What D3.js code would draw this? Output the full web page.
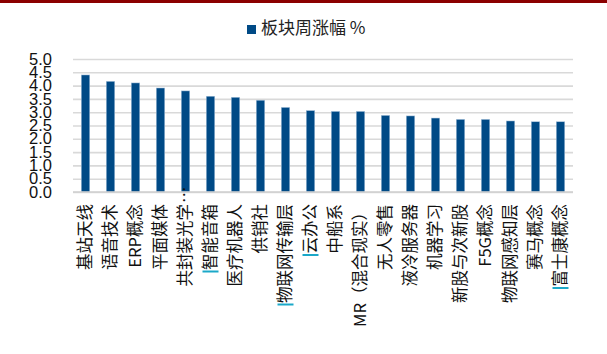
<!DOCTYPE html>
<html><head><meta charset="utf-8">
<script src="https://cdn.jsdelivr.net/npm/d3@7"></script>
<style>
body{margin:0;background:#fff;}
svg{display:block;}
</style></head>
<body><div id="chart"></div>
<script>
const categories=['基站天线','语音技术','ERP概念','平面媒体','共封装光学…','智能音箱','医疗机器人','供销社','物联网传输层','云办公','中船系','MR（混合现实）','无人零售','液冷服务器','机器学习','新股与次新股','F5G概念','物联网感知层','赛马概念','富士康概念'];
const weeklyGain=[4.40,4.16,4.10,3.91,3.80,3.60,3.56,3.45,3.18,3.06,3.03,3.03,2.88,2.86,2.78,2.73,2.73,2.67,2.64,2.64];
const yTicks=[0,0.5,1,1.5,2,2.5,3,3.5,4,4.5,5];
const seriesName='板块周涨幅 %';
const marked=['智能音箱','物联网传输层','云办公','富士康概念'];

const W=607,H=354,m={t:59,r:34,b:162,l:73};
const w=W-m.l-m.r,h=H-m.t-m.b;
const svg=d3.select('#chart').append('svg').attr('width',W).attr('height',H);
svg.append('rect').attr('width',W).attr('height',3).attr('fill','#8b0000');

const g=svg.append('g').attr('transform',`translate(${m.l},${m.t})`);
const x=d3.scaleBand().domain(categories).range([0,w]).paddingInner(.66).paddingOuter(.33);
const y=d3.scaleLinear().domain([0,5]).range([h,0]);

// grid
g.append('g').call(d3.axisLeft(y).tickValues(yTicks).tickSize(-w).tickFormat(''))
  .call(a=>a.select('.domain').remove())
  .call(a=>a.selectAll('line').attr('stroke','#d9d9d9').attr('stroke-width',1.6));
// y labels
g.append('g').selectAll('text').data(yTicks).join('text')
  .attr('x',-21).attr('y',d=>y(d)).attr('dy','0.34em').attr('text-anchor','end')
  .attr('font-family','Liberation Sans, Arial, sans-serif').attr('font-size',16.5).attr('fill','#111')
  .text(d=>d.toFixed(1));

// bars
g.selectAll('.bar').data(weeklyGain).join('rect').attr('class','bar')
  .attr('x',(d,i)=>x(categories[i])).attr('width',x.bandwidth())
  .attr('y',d=>y(d)).attr('height',d=>h-y(d))
  .attr('fill','#004a86').attr('stroke','#a9c3dc').attr('stroke-width',0.5);

// x axis line
g.append('line').attr('x1',0).attr('x2',w).attr('y1',h).attr('y2',h).attr('stroke','#cfcfcf').attr('stroke-width',1.5);

// x labels, rotated
const lab=g.append('g').attr('font-family','"Noto Sans CJK SC", sans-serif').attr('font-size',16.5).attr('fill','#111');
categories.forEach(c=>{
  const cx=x(c)+x.bandwidth()/2, y0=h+12;
  const main=c.endsWith('…')?c.slice(0,-1):c;
  const t=lab.append('text').attr('transform',`translate(${cx},${y0}) rotate(-90)`)
    .attr('text-anchor','end').attr('dy','0.36em').text(main);
  if(main!==c){
    lab.append('text').attr('transform',`translate(${cx},${y0-1}) rotate(-90)`)
      .attr('text-anchor','start').attr('dy','0.36em').text('…');
  }
  if(marked.includes(c)){
    const len=t.node().getComputedTextLength();
    lab.append('line').attr('x1',cx-8).attr('x2',cx+8).attr('y1',y0+len+1.5).attr('y2',y0+len+1.5)
      .attr('stroke','#1ba8c8').attr('stroke-width',2);
  }
});

// legend
const leg=svg.append('g').attr('transform','translate(247,25)');
leg.append('rect').attr('width',9).attr('height',9).attr('fill','#004a86');
leg.append('text').attr('x',14).attr('y',9).attr('font-family','"Noto Sans CJK SC", sans-serif')
  .attr('font-size',17).attr('fill','#222').text(seriesName);
</script></body></html>
